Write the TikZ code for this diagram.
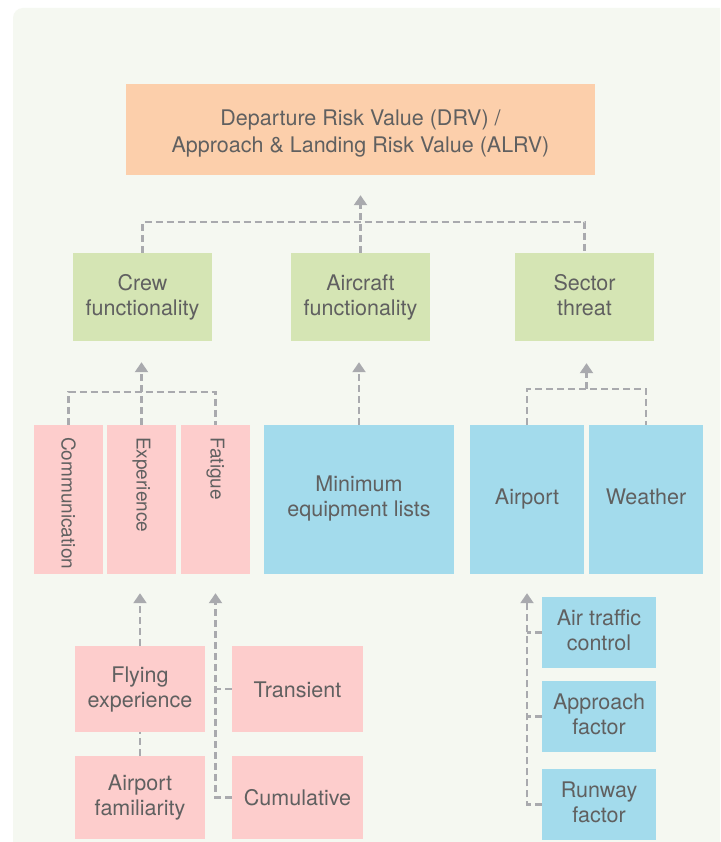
\documentclass[tikz,border=0pt]{standalone}
\usepackage{fontspec}
\setmainfont{TeX Gyre Heros}
\usetikzlibrary{arrows.meta,calc}

\definecolor{bgc}{HTML}{F5F8F1}
\definecolor{orangec}{HTML}{FCCFAB}
\definecolor{greenc}{HTML}{D5E5B4}
\definecolor{pinkc}{HTML}{FDCDCC}
\definecolor{bluec}{HTML}{A3DBEC}
\definecolor{txtc}{HTML}{606060}
\definecolor{linec}{HTML}{A9AAAE}

% invisible rules that set the space above the first and below the last line
\newcommand{\topstrut}[1]{\rule{0pt}{#1}}
\newcommand{\botstrut}[1]{\rule[-#1]{0pt}{0pt}}

\tikzset{
  boxbase/.style={rectangle, inner sep=2pt, align=center, text=txtc,
    font=\fontsize{21.5}{25}\selectfont},
  box/.style={boxbase,
    execute at begin node=\topstrut{20pt}, execute at end node=\botstrut{4pt}},
  evenbox/.style={boxbase, execute at begin node=\strut, execute at end node=\strut},
  topbox/.style={boxbase, fill=orangec, font=\fontsize{21.5}{26.7}\selectfont},
  greenbox/.style={box, fill=greenc},
  pinkbox/.style={box, fill=pinkc},
  bluebox/.style={box, fill=bluec},
  blueeven/.style={evenbox, fill=bluec},
  vlabel/.style={rotate=-90, anchor=west, inner sep=0pt, text=txtc,
    font=\fontsize{19}{22}\selectfont},
  conn/.style={draw=linec, line width=2.2pt, dash pattern=on 7pt off 4pt},
  arr/.style={conn, -{Triangle[width=13pt,length=10pt]}},
}

\begin{document}
\begin{tikzpicture}[x=1pt, y=-1pt]
  \useasboundingbox (0,0) rectangle (720,842);
  \clip (0,0) rectangle (720,842);
  \fill[white] (0,0) rectangle (720,842);
  \fill[bgc, rounded corners=10pt] (13,8) rectangle (760,880);

  % result: each line lowered a little, with its box kept at the natural size
  \node[topbox, minimum width=469pt, minimum height=91pt] (drv) at (360.5,129.5)
    {\raisebox{-4pt}[16pt][5pt]{Departure Risk Value (DRV) /}\\
     \raisebox{-4pt}[16pt][5pt]{Approach \& Landing Risk Value (ALRV)}};

  % functionality / threat level
  \node[greenbox, minimum width=139pt, minimum height=88pt] (crew) at (142.5,297) {Crew\\functionality};
  \node[greenbox, minimum width=139pt, minimum height=88pt] (aircraft) at (360.5,297) {Aircraft\\functionality};
  \node[greenbox, minimum width=139pt, minimum height=88pt] (sector) at (584.5,297) {Sector\\threat};

  % factors
  \node[pinkbox, minimum width=69pt, minimum height=149pt] (comm) at (68.5,499.5) {};
  \node[pinkbox, minimum width=69pt, minimum height=149pt] (exp) at (141.5,499.5) {};
  \node[pinkbox, minimum width=69pt, minimum height=149pt] (fat) at (215.5,499.5) {};
  \node[vlabel] (commlbl) at (68.5,437) {Communication};
  \node[vlabel] (explbl) at (141.5,437) {Experience};
  \node[vlabel] (fatlbl) at (215.5,437) {Fatigue};
  \node[blueeven, minimum width=190pt, minimum height=149pt] (mel) at (359,499.5) {Minimum\\equipment lists};
  \node[blueeven, minimum width=114pt, minimum height=149pt] (airport) at (527,499.5) {Airport};
  \node[blueeven, minimum width=114pt, minimum height=149pt] (weather) at (646,499.5) {Weather};

  % sub-factors
  \node[pinkbox, minimum width=130pt, minimum height=86pt] (flying) at (140,689) {Flying\\experience};
  \node[pinkbox, minimum width=130pt, minimum height=83pt] (famil) at (140,797.5) {Airport\\familiarity};
  \node[pinkbox, minimum width=131pt, minimum height=86pt] (trans) at (297.5,689) {Transient};
  \node[pinkbox, minimum width=131pt, minimum height=83pt] (cumul) at (297.5,797.5) {Cumulative};
  \node[bluebox, minimum width=114pt, minimum height=71pt] (atc) at (599,632.5) {Air traffic\\control};
  \node[bluebox, minimum width=114pt, minimum height=71pt] (appr) at (599,716.5) {Approach\\factor};
  \node[bluebox, minimum width=114pt, minimum height=71pt] (runway) at (599,804.5) {Runway\\factor};

  % connectors: level 2 -> result
  \draw[conn] (crew.north) -- ++(0,-31) -| (sector.north);
  \draw[arr, shorten >=20pt] (aircraft.north) -- (drv.south);

  % connectors: factors -> level 2
  \draw[conn] (comm.north) -- ++(0,-33) -| (fat.north);
  \draw[arr, shorten >=21pt] (exp.north) -- (exp.north |- crew.south);
  \draw[arr, shorten >=21pt] (mel.north) -- (mel.north |- aircraft.south);
  \draw[conn] (airport.north) -- ++(0,-36) -| (weather.north);
  \coordinate (swmid) at ($(airport.north)!0.5!(weather.north)$);
  \draw[arr, shorten >=22pt] (swmid) ++(0,-36) -- (swmid |- sector.south);

  % connectors: sub-factors -> factors
  \draw[conn] (famil.north) -- (flying.south);
  \draw[arr, shorten >=19pt] (flying.north) -- (flying.north |- exp.south);
  \draw[arr, shorten >=19pt] (cumul.west) -| (fat.south);
  \draw[conn] (trans.west) -- (trans.west -| fat.south);
  \draw[arr, shorten >=19pt] (runway.west) -| (airport.south);
  \draw[conn] (atc.west) -- (atc.west -| airport.south);
  \draw[conn] (appr.west) -- (appr.west -| airport.south);
\end{tikzpicture}
\end{document}
